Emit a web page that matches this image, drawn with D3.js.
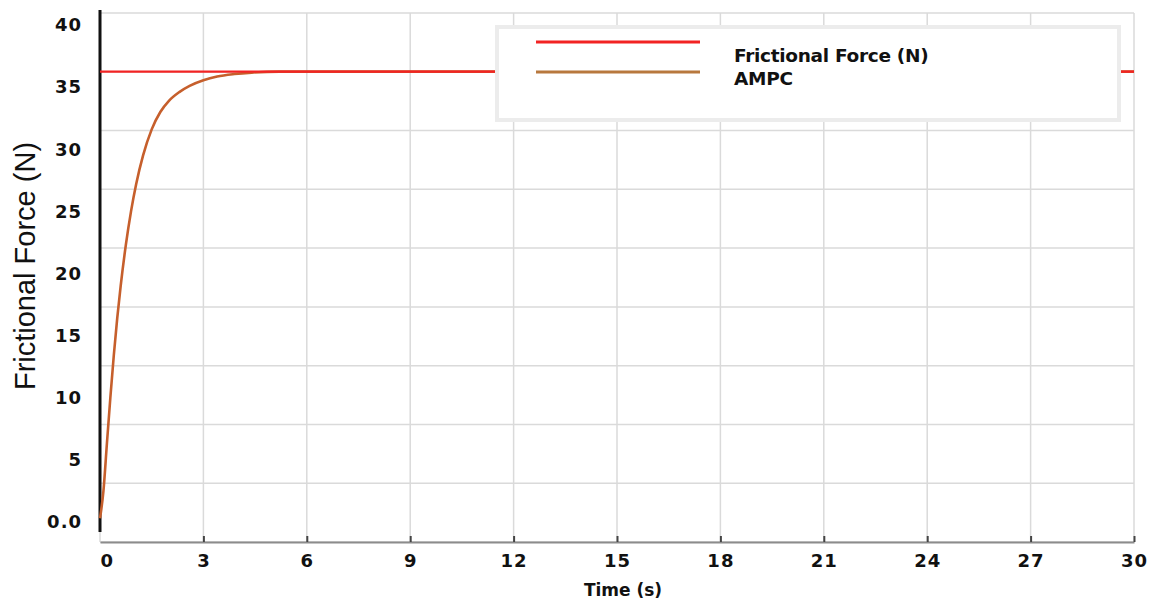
<!DOCTYPE html>
<html>
<head>
<meta charset="utf-8">
<script src="https://cdn.jsdelivr.net/npm/d3@7"></script>
<style>
  body { margin: 0; background: #fff; }
  svg { display: block; }
</style>
</head>
<body>
<script>
// values
const ampcTime  = [0, 0.1, 0.2, 0.3, 0.4, 0.5, 0.6, 0.75, 0.9, 1.05, 1.25, 1.5, 1.75, 2.0, 2.3, 2.6, 3.0, 3.4, 3.9, 4.4, 5.2, 6, 9, 12, 15, 18, 21, 24, 27, 30];
const ampcForce = [0.3, 2.5, 6.3, 10.0, 13.4, 16.4, 19.0, 22.3, 25.0, 27.2, 29.5, 31.6, 33.0, 33.9, 34.6, 35.1, 35.55, 35.85, 36.05, 36.17, 36.25, 36.25, 36.25, 36.25, 36.25, 36.25, 36.25, 36.25, 36.25, 36.25];
const refTime  = [0, 30];
const refForce = [36.25, 36.25];
const xTicks = [0, 3, 6, 9, 12, 15, 18, 21, 24, 27, 30];
const yTicks = [0, 5, 10, 15, 20, 25, 30, 35, 40];
const gridRows = [0, 1, 2, 3, 4, 5, 6, 7, 8, 9];
const seriesNames = ['Frictional Force (N)', 'AMPC'];
const seriesColors = ['#f22323', '#b8783e'];

const W = 1162, H = 602;
const plotTop = 13, plotBottom = 542;

const svg = d3.select('body').append('svg').attr('width', W).attr('height', H);

const x = d3.scaleLinear().domain([0, 30]).range([100, 1134]);
const y = d3.scaleLinear().domain([0, 40]).range([522, 25]);
const gy = d3.scaleLinear().domain([0, 9]).range([plotBottom, plotTop]);

// grid
svg.append('g').selectAll('line').data(xTicks).enter().append('line')
  .attr('x1', d => x(d)).attr('x2', d => x(d))
  .attr('y1', plotTop).attr('y2', plotBottom)
  .attr('stroke', '#dadada').attr('stroke-width', 1.5);
svg.append('g').selectAll('line').data(gridRows).enter().append('line')
  .attr('x1', x(0)).attr('x2', x(30))
  .attr('y1', d => gy(d)).attr('y2', d => gy(d))
  .attr('stroke', '#dadada').attr('stroke-width', 1.5);

// x axis
const xAxis = d3.axisBottom(x).tickValues(xTicks).tickSize(0).tickPadding(12).tickFormat(d3.format('d'));
const gx = svg.append('g').attr('transform', 'translate(0,' + plotBottom + ')').call(xAxis);
gx.select('.domain').attr('stroke', '#8c8c8c').attr('stroke-width', 2);
gx.selectAll('text')
  .attr('font-family', 'DejaVu Sans').attr('font-weight', 'bold').attr('font-size', 18)
  .attr('letter-spacing', 1).attr('fill', '#111')
  .attr('text-anchor', d => d === 0 ? 'start' : 'middle');
gx.selectAll('.tick').append('line')
  .attr('y1', 0).attr('y2', -6).attr('stroke', '#444').attr('stroke-width', 2)
  .attr('display', d => d === 0 ? 'none' : null);

// y axis
const yAxis = d3.axisLeft(y).tickValues(yTicks).tickSize(0).tickPadding(18)
  .tickFormat(d => d === 0 ? '0.0' : d3.format('d')(d));
const gyAxis = svg.append('g').attr('transform', 'translate(' + x(0) + ',0)').call(yAxis);
gyAxis.select('.domain').remove();
gyAxis.selectAll('text')
  .attr('font-family', 'DejaVu Sans').attr('font-weight', 'bold').attr('font-size', 18)
  .attr('letter-spacing', 1).attr('fill', '#111');
svg.append('line')
  .attr('x1', x(0)).attr('x2', x(0)).attr('y1', plotTop - 3).attr('y2', plotBottom - 10)
  .attr('stroke', '#111').attr('stroke-width', 3);

// series
const line = d3.line().x(d => x(d[0])).y(d => y(d[1])).curve(d3.curveMonotoneX);
svg.append('path').datum(d3.zip(ampcTime, ampcForce))
  .attr('d', line).attr('fill', 'none')
  .attr('stroke', '#c65f2c').attr('stroke-width', 2.6);
svg.append('path').datum(d3.zip(refTime, refForce))
  .attr('d', line).attr('fill', 'none')
  .attr('stroke', seriesColors[0]).attr('stroke-width', 2.4);

// axis titles
svg.append('text')
  .attr('transform', 'translate(35,266) rotate(-90)')
  .attr('text-anchor', 'middle')
  .attr('font-family', 'Liberation Sans, Arial').attr('font-size', 29).attr('fill', '#111')
  .text('Frictional Force (N)');
svg.append('text')
  .attr('x', 623).attr('y', 596).attr('text-anchor', 'middle')
  .attr('font-family', 'DejaVu Sans').attr('font-weight', 'bold').attr('font-size', 17).attr('fill', '#111')
  .text('Time (s)');

// legend
const lg = svg.append('g');
lg.append('rect').attr('x', 497).attr('y', 27).attr('width', 622).attr('height', 93)
  .attr('fill', '#fff').attr('stroke', '#ececec').attr('stroke-width', 4);
lg.selectAll('line.key').data(seriesColors).enter().append('line')
  .attr('x1', 536).attr('x2', 700)
  .attr('y1', (d, i) => 42 + i * 30).attr('y2', (d, i) => 42 + i * 30)
  .attr('stroke', d => d).attr('stroke-width', 3);
lg.selectAll('text').data(seriesNames).enter().append('text')
  .attr('x', 734).attr('y', (d, i) => 62 + i * 23)
  .attr('font-family', 'DejaVu Sans').attr('font-weight', 'bold').attr('font-size', 18.5)
  .attr('letter-spacing', -0.3).attr('fill', '#111')
  .text(d => d);
</script>
</body>
</html>
